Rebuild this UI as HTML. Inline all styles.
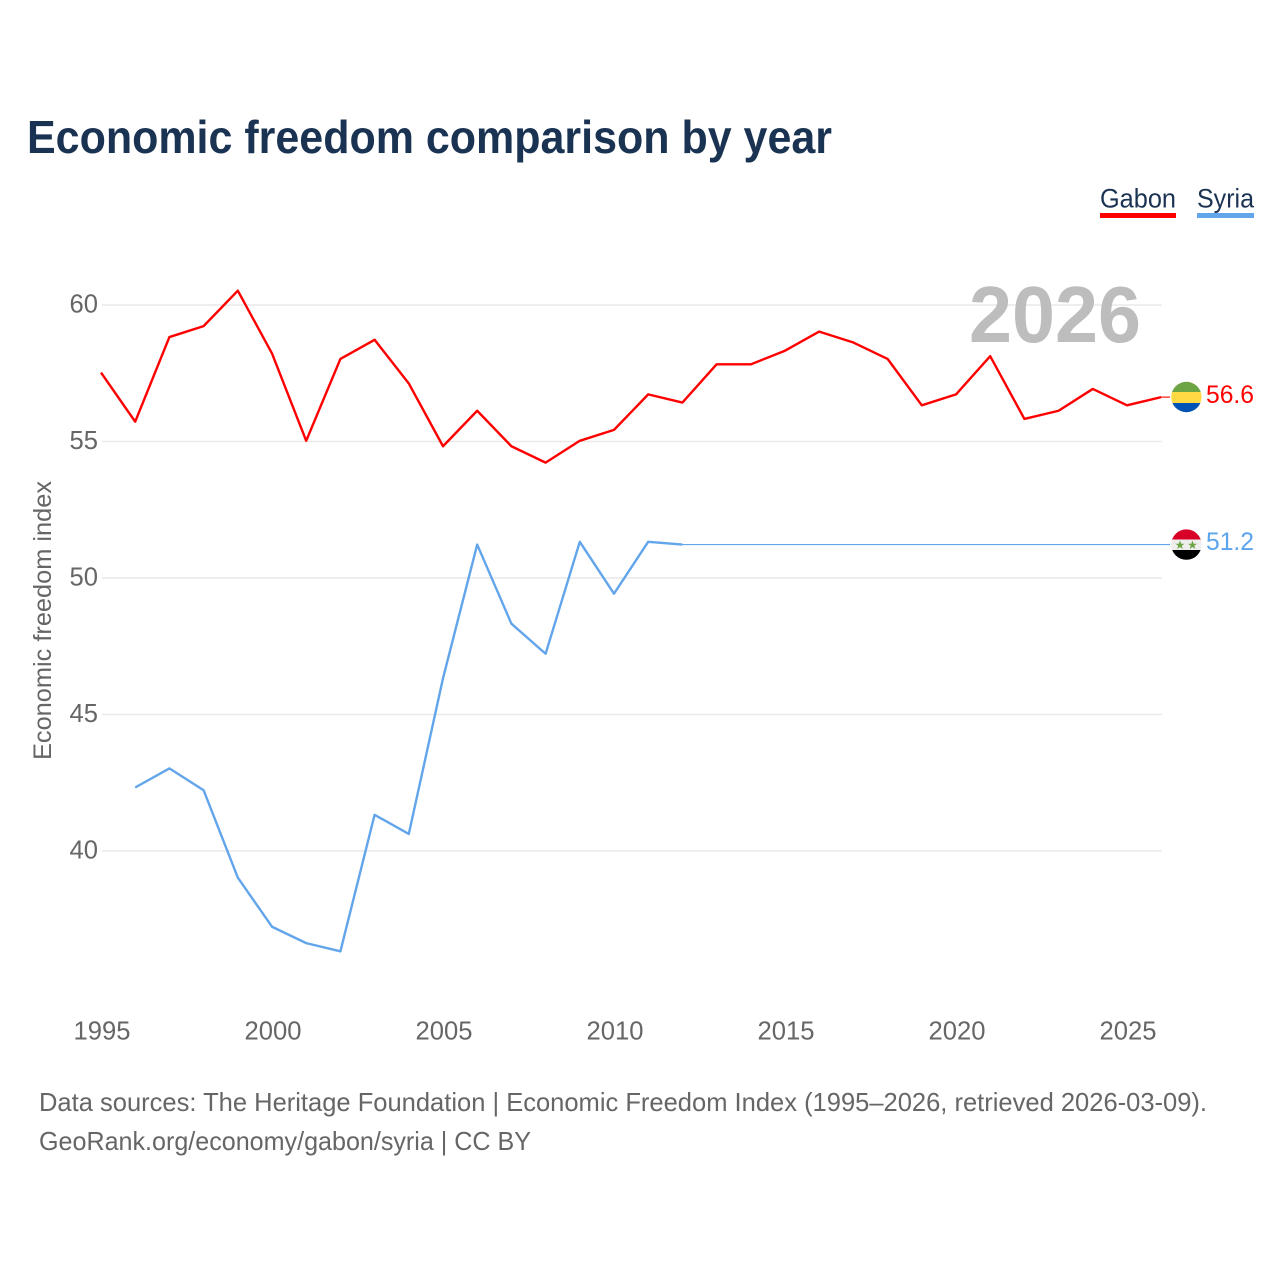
<!DOCTYPE html>
<html lang="en">
<head>
<meta charset="utf-8">
<title>Economic freedom comparison by year</title>
<style>
html,body{margin:0;padding:0;background:#fff;width:1280px;height:1280px;overflow:hidden}
svg{display:block}
text{font-family:"Liberation Sans",sans-serif}
</style>
</head>
<body>
<svg id="chart" width="1280" height="1280" viewBox="0 0 1280 1280" xmlns="http://www.w3.org/2000/svg">
  <defs>
    <clipPath id="clip-gabon"><circle id="clip-gabon-circle" cx="1186.4" cy="397" r="15.2"/></clipPath>
    <clipPath id="clip-syria"><circle id="clip-syria-circle" cx="1186.4" cy="544.6" r="15.2"/></clipPath>
  </defs>
  <text x="27" y="153" font-size="46" font-weight="700" fill="#1a3352" textLength="805" lengthAdjust="spacingAndGlyphs">Economic freedom comparison by year</text>

  <g>
    <text x="1100" y="207.5" font-size="27" fill="#1a3352" textLength="76" lengthAdjust="spacingAndGlyphs">Gabon</text>
    <rect x="1100" y="213" width="76" height="5" fill="#ff0000"/>
  </g>
  <g>
    <text x="1197" y="207.5" font-size="27" fill="#1a3352" textLength="57" lengthAdjust="spacingAndGlyphs">Syria</text>
    <rect x="1197" y="213" width="57" height="5" fill="#62a5ea"/>
  </g>

  <g id="grid"></g>
  <g id="y-ticks"></g>
  <g id="x-ticks"></g>

  <text transform="translate(51,620.5) rotate(-90)" text-anchor="middle" font-size="25" fill="#666666" textLength="279" lengthAdjust="spacingAndGlyphs">Economic freedom index</text>

  <text id="year-label" x="969" y="342" font-size="80" font-weight="700" fill="#bdbdbd" textLength="172" lengthAdjust="spacingAndGlyphs">2026</text>

  <g id="series"></g>

  <g id="flag-gabon" clip-path="url(#clip-gabon)">
    <rect id="gabon-green" x="1170" y="381" width="32" height="11" fill="#6da544"/>
    <rect id="gabon-yellow" x="1170" y="392" width="32" height="11" fill="#ffda44"/>
    <rect id="gabon-blue" x="1170" y="403" width="32" height="11" fill="#0052b4"/>
  </g>
  <g id="flag-syria" clip-path="url(#clip-syria)">
    <rect x="1170" y="529" width="32" height="32" fill="#eeeeee"/>
    <rect x="1170" y="529" width="32" height="10.5" fill="#d80027"/>
    <rect x="1170" y="550" width="32" height="11" fill="#000000"/>
    <polygon points="1180,540.5 1181.2,543.7 1184.5,543.7 1181.8,545.7 1182.8,549 1180,547 1177.2,549 1178.2,545.7 1175.5,543.7 1178.8,543.7" fill="#6da544"/>
    <polygon points="1192.5,540.5 1193.7,543.7 1197,543.7 1194.3,545.7 1195.3,549 1192.5,547 1189.7,549 1190.7,545.7 1188,543.7 1191.3,543.7" fill="#6da544"/>
  </g>

  <text x="1206" y="403" font-size="25" fill="#ff0000" textLength="48" lengthAdjust="spacingAndGlyphs">56.6</text>
  <text x="1206" y="550" font-size="25" fill="#5ba4ee" textLength="48" lengthAdjust="spacingAndGlyphs">51.2</text>

  <text x="39" y="1111" font-size="26" fill="#666666" textLength="1168" lengthAdjust="spacingAndGlyphs">Data sources: The Heritage Foundation | Economic Freedom Index (1995–2026, retrieved 2026-03-09).</text>
  <text x="39" y="1150" font-size="26" fill="#666666" textLength="492" lengthAdjust="spacingAndGlyphs">GeoRank.org/economy/gabon/syria | CC BY</text>
</svg>
<script>
const years = [1995,1996,1997,1998,1999,2000,2001,2002,2003,2004,2005,2006,2007,2008,2009,2010,2011,2012,2013,2014,2015,2016,2017,2018,2019,2020,2021,2022,2023,2024,2025,2026];
const gabonValues = [57.5,55.7,58.8,59.2,60.5,58.2,55,58,58.7,57.1,54.8,56.1,54.8,54.2,55,55.4,56.7,56.4,57.8,57.8,58.3,59,58.6,58,56.3,56.7,58.1,55.8,56.1,56.9,56.3,56.6];
const syriaValues = [null,42.3,43,42.2,39,37.2,36.6,36.3,41.3,40.6,46.3,51.2,48.3,47.2,51.3,49.4,51.3,51.2,null,null,null,null,null,null,null,null,null,null,null,null,null,null];
const yTickValues = [60,55,50,45,40];
const xTickYears = [1995,2000,2005,2010,2015,2020,2025];

const SVG_NS = 'http://www.w3.org/2000/svg';
const xScale = function (year) { return 102 + (year - 1995) * 34.2; };
const yScale = function (value) { return 305 + (60 - value) * 27.3; };
const markX = function (year) { return xScale(year) - 1; };
const markY = function (value) { return yScale(value) - 0.7; };
const leaderEndX = 1170;

const make = function (tag, parent) {
  const el = document.createElementNS(SVG_NS, tag);
  parent.appendChild(el);
  return el;
};

const gridGroup = document.getElementById('grid');
const yTickGroup = document.getElementById('y-ticks');
const xTickGroup = document.getElementById('x-ticks');
const seriesGroup = document.getElementById('series');

yTickValues.forEach(function (value) {
  const line = make('line', gridGroup);
  
  
  line.setAttribute('x1', xScale(1995));
  line.setAttribute('x2', xScale(2026) - 0.5);
  line.setAttribute('y1', yScale(value));
  line.setAttribute('y2', yScale(value));
  line.setAttribute('stroke', '#e9e9e9');
  line.setAttribute('stroke-width', '1.6');

  const label = make('text', yTickGroup);
  
  
  label.setAttribute('x', 98);
  label.setAttribute('y', yScale(value) + 7.3);
  label.setAttribute('text-anchor', 'end');
  label.setAttribute('font-size', '25.6');
  label.setAttribute('fill', '#666666');
  label.textContent = value;
});

xTickYears.forEach(function (year) {
  const label = make('text', xTickGroup);
  
  
  label.setAttribute('x', xScale(year));
  label.setAttribute('y', 1039.5);
  label.setAttribute('text-anchor', 'middle');
  label.setAttribute('font-size', '25.6');
  label.setAttribute('fill', '#666666');
  label.textContent = year;
});

const pathFrom = function (values) {
  let d = '';
  values.forEach(function (value, i) {
    if (value === null) return;
    d += (d === '' ? 'M' : 'L') + markX(years[i]).toFixed(2) + ' ' + markY(value).toFixed(2);
  });
  return d;
};
const lastDefined = function (values) {
  let last = 0;
  values.forEach(function (value, i) { if (value !== null) last = i; });
  return last;
};

const gabonLine = make('path', seriesGroup);


gabonLine.setAttribute('d', pathFrom(gabonValues));
gabonLine.setAttribute('fill', 'none');
gabonLine.setAttribute('stroke', '#ff0000');
gabonLine.setAttribute('stroke-width', '2.4');
gabonLine.setAttribute('stroke-linejoin', 'round');

const syriaLine = make('path', seriesGroup);


syriaLine.setAttribute('d', pathFrom(syriaValues));
syriaLine.setAttribute('fill', 'none');
syriaLine.setAttribute('stroke', '#62a5ea');
syriaLine.setAttribute('stroke-width', '2.4');
syriaLine.setAttribute('stroke-linejoin', 'round');

const gabonLast = lastDefined(gabonValues);
const gabonLeader = make('line', seriesGroup);


gabonLeader.setAttribute('x1', markX(years[gabonLast]));
gabonLeader.setAttribute('x2', leaderEndX);
gabonLeader.setAttribute('y1', markY(gabonValues[gabonLast]));
gabonLeader.setAttribute('y2', markY(gabonValues[gabonLast]));
gabonLeader.setAttribute('stroke', '#ff0000');
gabonLeader.setAttribute('stroke-width', '1.1');

const syriaLast = lastDefined(syriaValues);
const syriaLeader = make('line', seriesGroup);


syriaLeader.setAttribute('x1', markX(years[syriaLast]));
syriaLeader.setAttribute('x2', leaderEndX);
syriaLeader.setAttribute('y1', markY(syriaValues[syriaLast]));
syriaLeader.setAttribute('y2', markY(syriaValues[syriaLast]));
syriaLeader.setAttribute('stroke', '#62a5ea');
syriaLeader.setAttribute('stroke-width', '1.1');
</script>
</body>
</html>
